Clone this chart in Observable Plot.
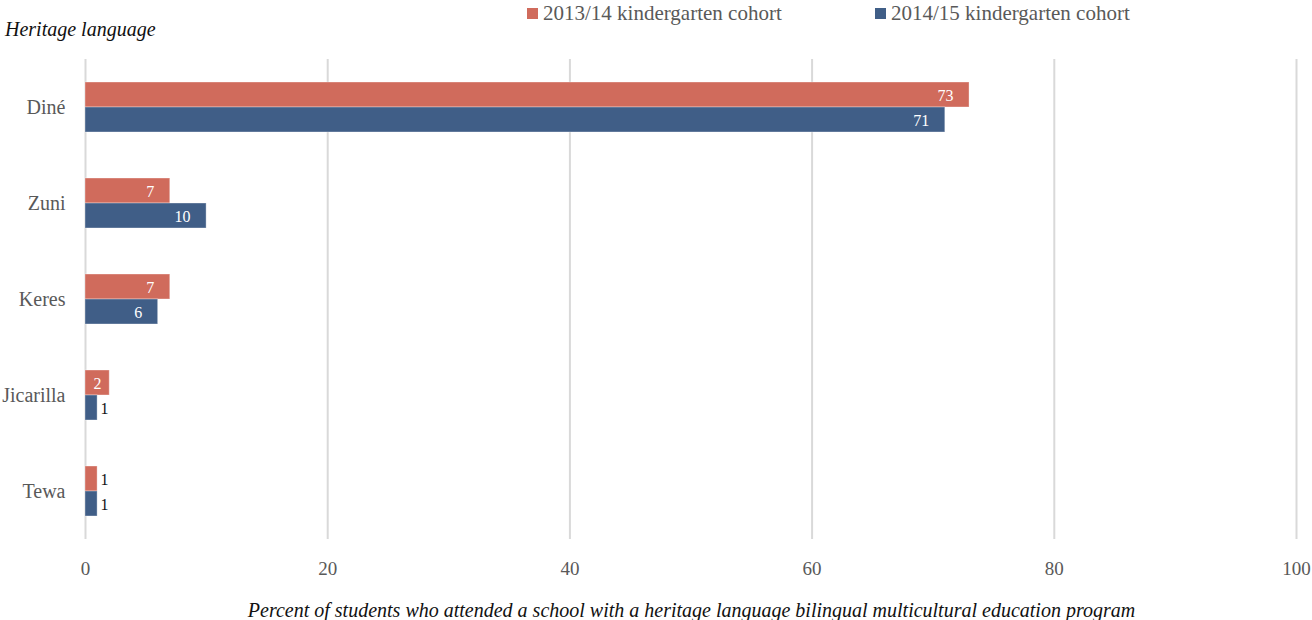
<!DOCTYPE html>
<html>
<head>
<meta charset="utf-8">
<script src="https://cdn.jsdelivr.net/npm/d3@7"></script>
<script src="https://cdn.jsdelivr.net/npm/@observablehq/plot@0.6"></script>
<style>
  body { margin: 0; background: #fff; }
  #wrap { position: relative; width: 1312px; height: 620px; font-family: "Liberation Serif", serif; }
  #chart svg { position: absolute; left: 0; top: 0; }
  .note { position: absolute; white-space: nowrap; line-height: 1; }
  #legend { position: absolute; top: 1px; left: 0; width: 1312px; height: 22px; }
  .item { position: absolute; display: flex; align-items: center; font-size: 21px; color: #595959; }
  .swatch { width: 11px; height: 11px; margin-right: 5px; }
</style>
</head>
<body>
<div id="wrap">
  <div id="chart"></div>
  <div id="legend"></div>
  <div class="note" id="ytitle" style="left:5px; top:19px; font-size:20px; font-style:italic; color:#111;">Heritage language</div>
  <div class="note" id="xtitle" style="left:0; width:1383px; text-align:center; top:600px; font-size:20px; font-style:italic; color:#111;">Percent of students who attended a school with a heritage language bilingual multicultural education program</div>
</div>
<script>
// Heritage languages, top to bottom
const languages = ["Diné", "Zuni", "Keres", "Jicarilla", "Tewa"];
// Kindergarten cohorts (series)
const cohorts = ["2013/14 kindergarten cohort", "2014/15 kindergarten cohort"];
const cohortColors = ["#d06b5c", "#405e87"];
// Percent of students per language, by cohort
const values2013 = [73, 7, 7, 2, 1];
const values2014 = [71, 10, 6, 1, 1];
// x-axis ticks
const xTicks = [0, 20, 40, 60, 80, 100];

const rows = languages.flatMap((language, i) => [
  {language, cohort: cohorts[0], value: values2013[i]},
  {language, cohort: cohorts[1], value: values2014[i]}
]);

const labelFont = 16;

const chart = Plot.plot({
  width: 1312,
  height: 620,
  marginLeft: 85,
  marginRight: 16,
  marginTop: 59,
  marginBottom: 81,
  style: {fontFamily: "'Liberation Serif', serif", fontSize: "18px", background: "white"},
  x: {domain: [0, 100], ticks: xTicks, label: null},
  y: {domain: cohorts, axis: null, paddingInner: 0, paddingOuter: 0.882},
  fy: {domain: languages, padding: 0, label: null, axis: null},
  color: {domain: cohorts, range: cohortColors},
  marks: [
    Plot.gridX(xTicks, {stroke: "#d9d9d9", strokeOpacity: 1, strokeWidth: 2}),
    Plot.barX(rows, {
      x: "value", y: "cohort", fy: "language", fill: "cohort",
      stroke: "white", strokeOpacity: 0.35, strokeWidth: 1
    }),
    // labels placed inside the end of wide bars
    Plot.text(rows.filter(d => d.value >= 5), {
      x: "value", y: "cohort", fy: "language", text: d => String(d.value),
      textAnchor: "end", dx: -16, dy: 1, fill: "white", fontSize: labelFont
    }),
    // labels centred in narrow bars
    Plot.text(rows.filter(d => d.value >= 2 && d.value < 5), {
      x: d => d.value / 2, y: "cohort", fy: "language", text: d => String(d.value),
      textAnchor: "middle", dy: 1, fill: "white", fontSize: labelFont
    }),
    // labels outside the thinnest bars
    Plot.text(rows.filter(d => d.value < 2), {
      x: "value", y: "cohort", fy: "language", text: d => String(d.value),
      textAnchor: "start", dx: 3, dy: 1, fill: "#111", fontSize: labelFont
    }),
    Plot.axisX({ticks: xTicks, tickSize: 0, tickPadding: 22, fontSize: 19, color: "#595959", label: null}),
    Plot.axisFy({anchor: "left", tickSize: 0, tickPadding: 20, fontSize: 20, color: "#595959", label: null})
  ]
});
document.getElementById("chart").appendChild(chart);

// legend
const legendX = [527, 875];
const legend = document.getElementById("legend");
cohorts.forEach((c, i) => {
  const item = document.createElement("div");
  item.className = "item";
  item.style.left = legendX[i] + "px";
  const sw = document.createElement("span");
  sw.className = "swatch";
  sw.style.background = cohortColors[i];
  item.appendChild(sw);
  item.appendChild(document.createTextNode(c));
  legend.appendChild(item);
});
</script>
</body>
</html>
